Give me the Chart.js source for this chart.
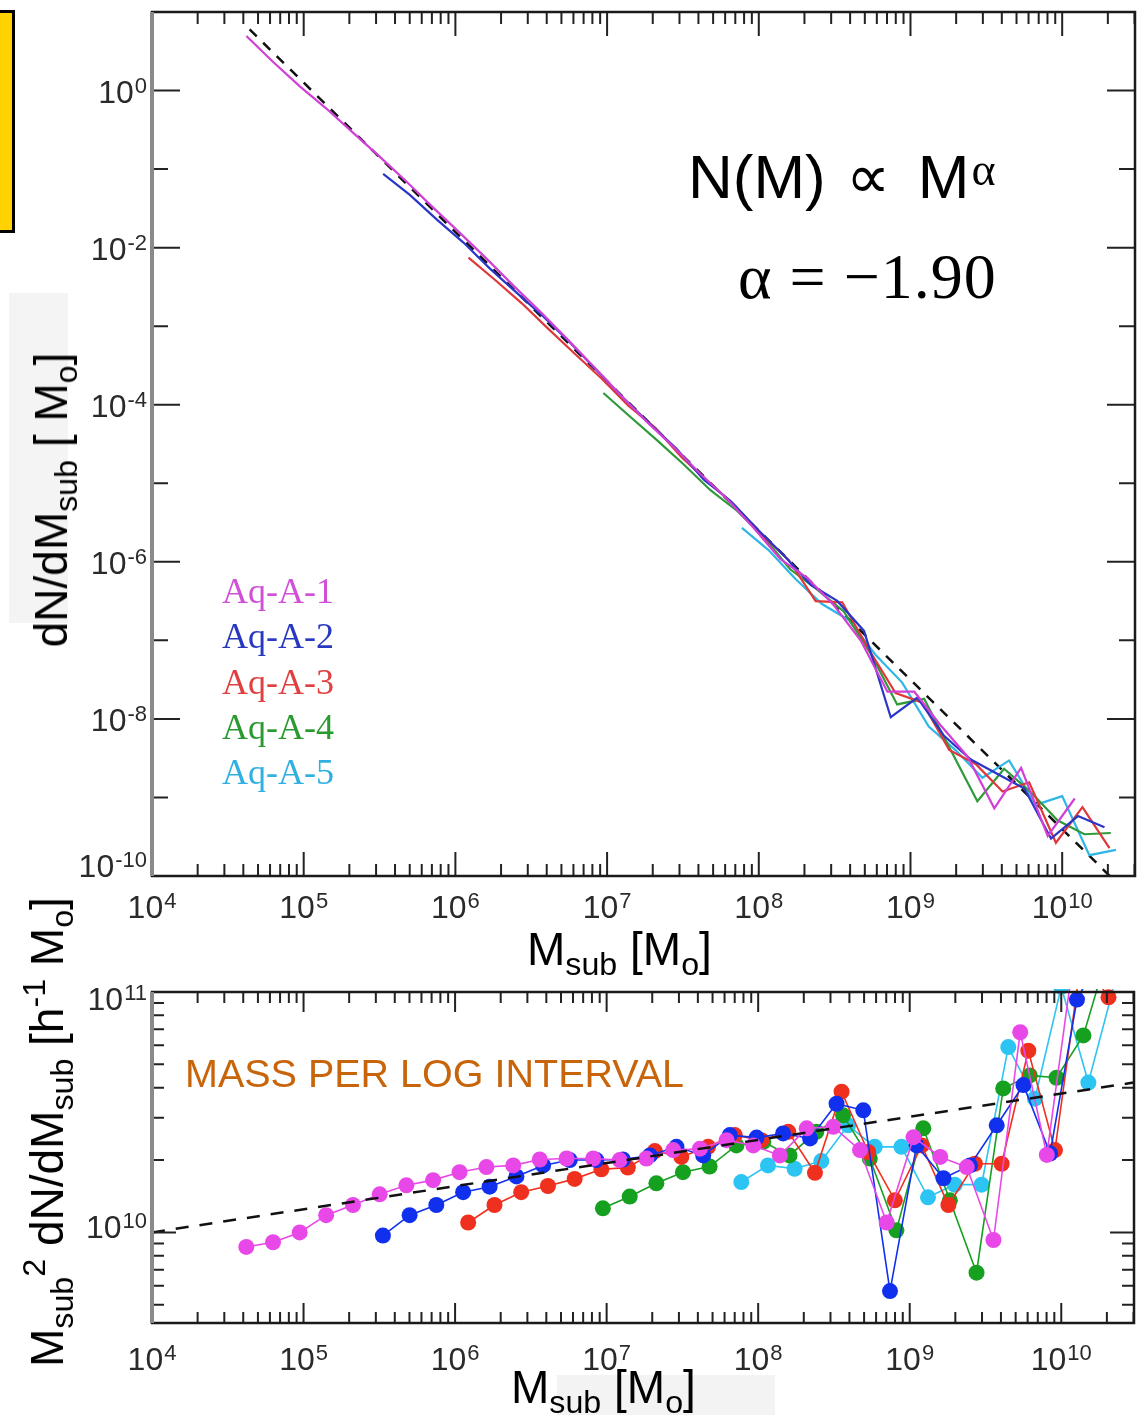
<!DOCTYPE html>
<html>
<head>
<meta charset="utf-8">
<script src="https://cdn.jsdelivr.net/npm/chart.js@4.4.1/dist/chart.umd.min.js"></script>
<style>
html,body{margin:0;padding:0;background:#fff}
body{width:1142px;height:1415px;position:relative;overflow:hidden;font-family:"Liberation Sans",Arial,sans-serif}
canvas{position:absolute;left:0}
#topChart{top:0}
#botChart{top:960px}
.t{position:absolute;white-space:nowrap;line-height:1;color:#000}
.t sub{font-size:0.7em;vertical-align:-0.3em;line-height:0}
.t sup{font-size:0.7em;vertical-align:0.55em;line-height:0}
.rot{transform:translate(-50%,-50%) rotate(-90deg)}
.serif{font-family:"Liberation Serif","Times New Roman",serif}
</style>
</head>
<body>
<div style="position:absolute;left:0;top:10px;width:12px;height:217px;background:#FFD200;border:3px solid #000;border-left:none"></div>
<div style="position:absolute;left:9px;top:293px;width:59px;height:330px;background:#f4f4f4"></div>
<div style="position:absolute;left:557px;top:1375px;width:218px;height:40px;background:#f3f3f3"></div>

<canvas id="topChart" width="1142" height="960"></canvas>
<canvas id="botChart" width="1142" height="455"></canvas>

<div class="t" style="left:527px;top:926px;font-size:46px">M<sub>sub</sub> [M<sub>o</sub>]</div>
<div class="t" style="left:511px;top:1364px;font-size:46px">M<sub>sub</sub> [M<sub>o</sub>]</div>
<div class="t rot" style="left:51px;top:500px;font-size:46px">dN/dM<sub>sub</sub> [ M<sub>o</sub>]</div>
<div class="t rot" style="left:47px;top:1132px;font-size:46px">M<sub>sub</sub><sup>2</sup> dN/dM<sub>sub</sub> [h<sup>-1</sup> M<sub>o</sub>]</div>

<div class="t" style="left:688px;top:146px;font-size:62px">N(M)<span style="margin-left:20px">∝</span><span style="margin-left:28px">M</span><span class="serif" style="font-size:46px;vertical-align:13px;margin-left:2px">α</span></div>
<div class="t serif" style="left:738px;top:245px;font-size:64px;letter-spacing:1px">α = −1.90</div>
<div class="t" style="left:185px;top:1054px;font-size:39.5px;color:#C8650A">MASS PER LOG INTERVAL</div>
<div id="legend"></div>

<script>
// subhalo mass bins (M_sub, M_o) for each run
const seriesNames = ['Aq-A-1', 'Aq-A-2', 'Aq-A-3', 'Aq-A-4', 'Aq-A-5']
const lineColors = ['#D23FD6', '#2A36C8', '#E0383A', '#2E9A3A', '#2FB6E6']
const dotColors = ['#E848E8', '#1030EE', '#F0301E', '#16A020', '#2CC4F2']
const legendColors = ['#D050D8', '#2838C0', '#E04040', '#2A9A30', '#30B0E0']

const a1Mass = [4.19e4, 6.29e4, 9.43e4, 1.41e5, 2.12e5, 3.18e5, 4.77e5, 7.16e5, 1.07e6, 1.61e6, 2.42e6, 3.62e6, 5.44e6, 8.15e6, 1.22e7, 1.83e7, 2.75e7, 4.13e7, 6.19e7, 9.29e7, 1.39e8, 2.09e8, 3.13e8, 4.70e8, 7.05e8, 1.06e9, 1.59e9, 2.38e9, 3.57e9, 5.36e9, 8.03e9, 1.21e10]
const a2Mass = [3.34e5, 5.01e5, 7.52e5, 1.13e6, 1.69e6, 2.54e6, 3.81e6, 5.71e6, 8.56e6, 1.28e7, 1.93e7, 2.89e7, 4.34e7, 6.50e7, 9.76e7, 1.46e8, 2.20e8, 3.29e8, 4.94e8, 7.41e8, 1.11e9, 1.67e9, 2.50e9, 3.75e9, 5.63e9, 8.44e9, 1.27e10, 1.90e10]
const a3Mass = [1.22e6, 1.82e6, 2.73e6, 4.10e6, 6.15e6, 9.23e6, 1.38e7, 2.08e7, 3.11e7, 4.67e7, 7.01e7, 1.05e8, 1.58e8, 2.37e8, 3.55e8, 5.32e8, 7.98e8, 1.20e9, 1.80e9, 2.69e9, 4.04e9, 6.06e9, 9.09e9, 1.36e10, 2.05e10]
const a4Mass = [9.45e6, 1.42e7, 2.13e7, 3.19e7, 4.78e7, 7.18e7, 1.08e8, 1.61e8, 2.42e8, 3.63e8, 5.45e8, 8.17e8, 1.23e9, 1.84e9, 2.76e9, 4.14e9, 6.20e9, 9.31e9, 1.40e10, 2.09e10]
const a5Mass = [7.74e7, 1.16e8, 1.74e8, 2.61e8, 3.92e8, 5.88e8, 8.82e8, 1.32e9, 1.98e9, 2.98e9, 4.47e9, 6.70e9, 1.00e10, 1.51e10, 2.26e10]

// top panel: dN/dM_sub
const a1DnDm = [4.95, 2.31, 1.13, 0.590, 0.289, 0.143, 0.0689, 0.0321, 0.0154, 0.00719, 0.00326, 0.00154, 6.89e-4, 3.06e-4, 1.34e-4, 6.05e-5, 2.90e-5, 1.31e-5, 6.30e-6, 2.67e-6, 1.08e-6, 6.19e-7, 2.80e-7, 9.95e-8, 2.22e-8, 2.22e-8, 8.17e-9, 3.30e-9, 7.26e-10, 2.38e-9, 3.24e-10, 9.7e-10]
const a2DnDm = [0.0871, 0.0469, 0.0229, 0.0116, 0.00541, 0.00266, 0.00132, 6.14e-4, 2.73e-4, 1.22e-4, 5.62e-5, 2.71e-5, 1.11e-5, 6.0e-6, 2.61e-6, 1.21e-6, 5.1e-7, 3.18e-7, 1.32e-7, 1.05e-8, 1.87e-8, 6.05e-9, 3.04e-9, 1.99e-9, 1.30e-9, 2.99e-10, 5.79e-10, 4.17e-10]
const a3DnDm = [7.48e-3, 3.90e-3, 1.97e-3, 9.25e-4, 4.43e-4, 2.14e-4, 9.73e-5, 5.07e-5, 2.13e-5, 1.04e-5, 5.15e-6, 2.18e-6, 1.05e-6, 3.16e-7, 3.05e-7, 7.64e-8, 2.13e-8, 1.61e-8, 4.02e-9, 2.67e-9, 1.19e-9, 1.56e-9, 2.65e-10, 7.52e-10, 2.26e-10]
const a4DnDm = [1.41e-4, 7.03e-5, 3.55e-5, 1.75e-5, 8.22e-6, 4.47e-6, 2.05e-6, 8.04e-7, 4.47e-7, 2.33e-7, 6.84e-8, 1.53e-8, 1.80e-8, 4.03e-9, 8.97e-10, 2.32e-9, 1.17e-9, 5.12e-10, 3.40e-10, 3.53e-10]
const a5DnDm = [2.70e-6, 1.41e-6, 6.07e-7, 2.90e-7, 1.82e-7, 6.56e-8, 2.90e-8, 8.0e-9, 4.01e-9, 1.78e-9, 2.96e-9, 8.04e-10, 1.04e-9, 1.84e-10, 2.15e-10]

// bottom panel: M^2 dN/dM_sub
const a1LogInt = [8.7e9, 9.1e9, 1.0e10, 1.18e10, 1.30e10, 1.44e10, 1.57e10, 1.65e10, 1.78e10, 1.87e10, 1.90e10, 2.01e10, 2.03e10, 2.03e10, 2.0e10, 2.03e10, 2.2e10, 2.23e10, 2.42e10, 2.3e10, 2.09e10, 2.71e10, 2.75e10, 2.2e10, 1.10e10, 2.49e10, 2.06e10, 1.87e10, 9.3e9, 6.8e10, 2.1e10, 1.4e11]
const a2LogInt = [9.7e9, 1.18e10, 1.30e10, 1.47e10, 1.55e10, 1.71e10, 1.90e10, 2.0e10, 2.0e10, 2.01e10, 2.09e10, 2.27e10, 2.09e10, 2.54e10, 2.48e10, 2.58e10, 2.46e10, 3.43e10, 3.22e10, 5.7e9, 2.3e10, 1.68e10, 1.90e10, 2.79e10, 4.1e10, 2.13e10, 9.3e10, 1.5e11]
const a3LogInt = [1.10e10, 1.30e10, 1.47e10, 1.56e10, 1.67e10, 1.83e10, 1.86e10, 2.18e10, 2.06e10, 2.27e10, 2.54e10, 2.42e10, 2.62e10, 1.77e10, 3.85e10, 2.16e10, 1.36e10, 2.3e10, 1.30e10, 1.93e10, 1.93e10, 5.7e10, 2.2e10, 1.4e11, 9.5e10]
const a4LogInt = [1.26e10, 1.41e10, 1.60e10, 1.78e10, 1.88e10, 2.3e10, 2.38e10, 2.09e10, 2.62e10, 3.07e10, 2.03e10, 1.02e10, 2.71e10, 1.36e10, 6.8e9, 3.97e10, 4.5e10, 4.4e10, 6.6e10, 1.55e11]
const a5LogInt = [1.62e10, 1.90e10, 1.84e10, 1.98e10, 2.79e10, 2.27e10, 2.27e10, 1.40e10, 1.58e10, 1.58e10, 5.9e10, 3.6e10, 1.05e11, 4.2e10, 1.1e11]

// alpha = -1.90 power law, dashed
const fitTopMass = [4.4e4, 3.0e10]
const fitTopDnDm = [6.0, 4.9e-11]
const fitBotMass = [1e4, 3.0e10]
const fitBotLogInt = [1.0e10, 4.2e10]

// tick labels (powers of ten)
const xTickExps = [4, 5, 6, 7, 8, 9, 10]
const topYLabelExps = [0, -2, -4, -6, -8, -10]
const botYLabelExps = [10, 11]

const masses = [a1Mass, a2Mass, a3Mass, a4Mass, a5Mass]
const topVals = [a1DnDm, a2DnDm, a3DnDm, a4DnDm, a5DnDm]
const botVals = [a1LogInt, a2LogInt, a3LogInt, a4LogInt, a5LogInt]

const pts = (xs, ys) => xs.map((x, i) => ({x, y: ys[i]}))
const SANS = '"Liberation Sans", Arial, sans-serif'

function powLabel(ctx, x, y, e, align){
  const base = '10', ex = String(e)
  ctx.font = '32px ' + SANS
  const wb = ctx.measureText(base).width
  ctx.font = '22px ' + SANS
  const we = ctx.measureText(ex).width
  const x0 = align === 'center' ? x - (wb + we + 1) / 2 : x - (wb + we + 1)
  ctx.textAlign = 'left'; ctx.textBaseline = 'alphabetic'
  ctx.font = '32px ' + SANS; ctx.fillText(base, x0, y)
  ctx.font = '22px ' + SANS; ctx.fillText(ex, x0 + wb + 1, y - 10)
}

const axisDecor = {
  id: 'axisDecor',
  afterDatasetsDraw(chart, _args, o){
    const {ctx, chartArea: a} = chart
    const xs = chart.scales.x, ys = chart.scales.y
    ctx.save()
    ctx.strokeStyle = '#222'; ctx.lineWidth = 2
    ctx.beginPath()
    xTickExps.forEach(e => {
      for(let m = 1; m <= 9; m++){
        const v = m * Math.pow(10, e)
        if(v > xs.max) break
        const px = xs.getPixelForValue(v)
        const len = m === 1 ? o.xMajor : o.xMinor
        ctx.moveTo(px, a.bottom); ctx.lineTo(px, a.bottom - len)
        ctx.moveTo(px, a.top); ctx.lineTo(px, a.top + len)
      }
    })
    o.yTicks.forEach(([v, len]) => {
      const py = ys.getPixelForValue(v)
      ctx.moveTo(a.left, py); ctx.lineTo(a.left + len, py)
      ctx.moveTo(a.right, py); ctx.lineTo(a.right - len, py)
    })
    ctx.stroke()
    ctx.lineWidth = 2.5; ctx.strokeStyle = '#1a1a1a'
    ctx.strokeRect(a.left, a.top, a.right - a.left, a.bottom - a.top)
    ctx.lineWidth = 4; ctx.strokeStyle = '#8a8a8a'
    ctx.beginPath(); ctx.moveTo(a.left, a.top); ctx.lineTo(a.left, a.bottom); ctx.stroke()
    ctx.fillStyle = '#2a2a2a'
    xTickExps.forEach(e => powLabel(ctx, xs.getPixelForValue(Math.pow(10, e)), a.bottom + o.xLabelDy, e, 'center'))
    o.yLabels.forEach(([e, dy]) => powLabel(ctx, a.left - 5, ys.getPixelForValue(Math.pow(10, e)) + dy, e, 'right'))
    ctx.restore()
  }
}

function baseOptions(padding, yMin, yMax, decor){
  return {
    responsive: false, animation: false,
    layout: {padding},
    plugins: {legend: {display: false}, tooltip: {enabled: false}, axisDecor: decor},
    scales: {
      x: {type: 'logarithmic', min: 1e4, max: 3.02e10, display: false},
      y: {type: 'logarithmic', min: yMin, max: yMax, display: false}
    }
  }
}

// top panel
const topSets = seriesNames.map((name, i) => ({
  label: name, data: pts(masses[i], topVals[i]),
  borderColor: lineColors[i], borderWidth: 2.2, pointRadius: 0, fill: false, tension: 0, clip: 1
}))
topSets.push({label: 'fit', data: pts(fitTopMass, fitTopDnDm), borderColor: '#111', borderWidth: 2.5,
  borderDash: [10, 9], pointRadius: 0, fill: false, clip: 1})

const topTicks = []
for(let e = -10; e <= 1; e++) topTicks.push([Math.pow(10, e), e % 2 === 0 ? 28 : 16])

new Chart(document.getElementById('topChart'), {
  type: 'line',
  data: {datasets: topSets},
  options: baseOptions({left: 152, top: 12, right: 7, bottom: 84}, 1e-10, 10, {
    xMajor: 24, xMinor: 12, xLabelDy: 42, yTicks: topTicks,
    yLabels: topYLabelExps.map(e => [e, e === -10 ? 1 : 12])
  }),
  plugins: [axisDecor]
})

// bottom panel
const botSets = seriesNames.map((name, i) => ({
  label: name, data: pts(masses[i], botVals[i]),
  borderColor: dotColors[i], borderWidth: 1.6, pointRadius: 8, pointBorderWidth: 0,
  pointBackgroundColor: dotColors[i], fill: false, tension: 0, clip: 3
}))
botSets.unshift({label: 'fit', data: pts(fitBotMass, fitBotLogInt), borderColor: '#111', borderWidth: 2.5,
  borderDash: [13, 11], pointRadius: 0, fill: false, clip: 1})

const botTicks = []
for(let e = 9; e <= 10; e++) for(let m = 1; m <= 9; m++){
  const v = m * Math.pow(10, e)
  if(v < 4.2e9) continue
  botTicks.push([v, m === 1 ? 24 : 12])
}
botTicks.push([1e11, 24])

new Chart(document.getElementById('botChart'), {
  type: 'line',
  data: {datasets: botSets},
  options: baseOptions({left: 152, top: 32, right: 7, bottom: 92}, 4.2e9, 1e11, {
    xMajor: 20, xMinor: 11, xLabelDy: 47, yTicks: botTicks,
    yLabels: botYLabelExps.map(e => [e, e === 11 ? 18 : 6])
  }),
  plugins: [axisDecor]
})

// legend text in the top panel
const legend = document.getElementById('legend')
seriesNames.forEach((name, i) => {
  const d = document.createElement('div')
  d.className = 't serif'
  d.style.cssText = `left:222px;top:${573 + i * 45.3}px;font-size:36px;color:${legendColors[i]}`
  d.textContent = name
  legend.appendChild(d)
})
</script>
</body>
</html>
